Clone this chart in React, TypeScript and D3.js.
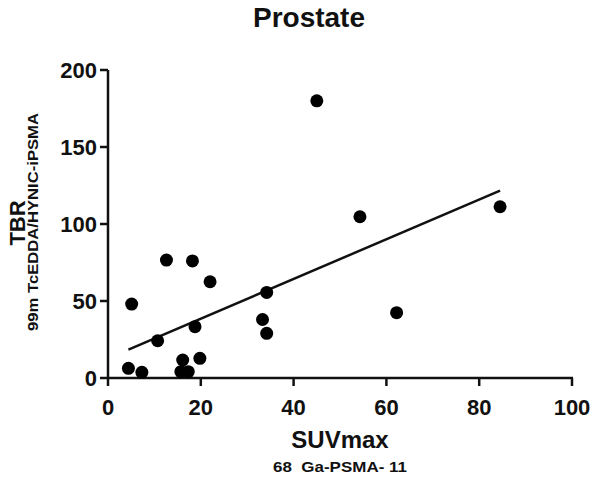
import React from "react";
import * as d3 from "d3";

const suvmax = [4.4, 5.1, 7.3, 10.7, 12.6, 15.7, 16.1, 17.3, 18.2, 18.75, 19.8, 22, 33.3, 34.2, 34.2, 45, 54.3, 62.2, 84.5];
const tbr = [6.3, 48, 3.7, 24.2, 76.6, 4.1, 11.7, 4.1, 76, 33.3, 12.8, 62.5, 38, 55.6, 29, 180, 104.7, 42.4, 111.2];
const fitIntercept = 12.7;
const fitSlope = 1.29;
const xTicks = [0, 20, 40, 60, 80, 100];
const yTicks = [0, 50, 100, 150, 200];
const title = "Prostate";
const xTitle = "SUVmax";
const xSub = "68  Ga-PSMA- 11";
const yTitle = "TBR";
const ySub = "99m TcEDDA/HYNIC-iPSMA";

export default function App() {
  const W = 600, H = 481;
  const x = d3.scaleLinear().domain([0, 100]).range([108, 572]);
  const y = d3.scaleLinear().domain([0, 200]).range([378, 70]);
  const font = "'Liberation Sans', Arial, sans-serif";
  const pts = suvmax.map((v, i) => ({ x: v, y: tbr[i] }));
  const [xmin, xmax] = d3.extent(suvmax) as [number, number];
  const line = d3.line<number>().x((d) => x(d)).y((d) => y(fitIntercept + fitSlope * d));
  return (
    <svg width={W} height={H} style={{ position: "absolute", left: 0, top: 0, background: "#fff" }} fontFamily={font}>
      <rect width={W} height={H} fill="#fff" />
      <text x={309} y={27} textAnchor="middle" fontSize={28} fontWeight="bold" fill="#111">{title}</text>
      <line x1={x(0)} x2={x(0)} y1={y(0) + 1} y2={y(200)} stroke="#111" strokeWidth={2.5} />
      <line x1={x(0) - 1} x2={x(100) + 1} y1={y(0)} y2={y(0)} stroke="#111" strokeWidth={2.5} />
      {yTicks.map((t) => (
        <g key={"y" + t}>
          <line x1={x(0) - 8} x2={x(0)} y1={y(t)} y2={y(t)} stroke="#111" strokeWidth={2.5} />
          <text x={97} y={y(t) + 8} textAnchor="end" fontSize={22} fontWeight="bold" fill="#111">{t}</text>
        </g>
      ))}
      {xTicks.map((t) => (
        <g key={"x" + t}>
          <line x1={x(t)} x2={x(t)} y1={y(0)} y2={y(0) + 8} stroke="#111" strokeWidth={2.5} />
          <text x={x(t)} y={415} textAnchor="middle" fontSize={22} fontWeight="bold" fill="#111">{t}</text>
        </g>
      ))}
      <text x={340} y={448} textAnchor="middle" fontSize={24} fontWeight="bold" fill="#111">{xTitle}</text>
      <text x={340} y={472} textAnchor="middle" fontSize={15} fontWeight="bold" fill="#111" style={{ whiteSpace: "pre" }} textLength={134} lengthAdjust="spacingAndGlyphs">{xSub}</text>
      <text transform="translate(25,223) rotate(-90)" textAnchor="middle" fontSize={22} fontWeight="bold" fill="#111">{yTitle}</text>
      <text transform="translate(38,222) rotate(-90)" textAnchor="middle" fontSize={15} fontWeight="bold" fill="#111" textLength={218} lengthAdjust="spacingAndGlyphs">{ySub}</text>
      <path d={line([xmin, xmax]) || ""} stroke="#111" strokeWidth={2.5} fill="none" />
      {pts.map((p, i) => (
        <circle key={i} cx={x(p.x)} cy={y(p.y)} r={6.5} fill="#000" />
      ))}
    </svg>
  );
}
